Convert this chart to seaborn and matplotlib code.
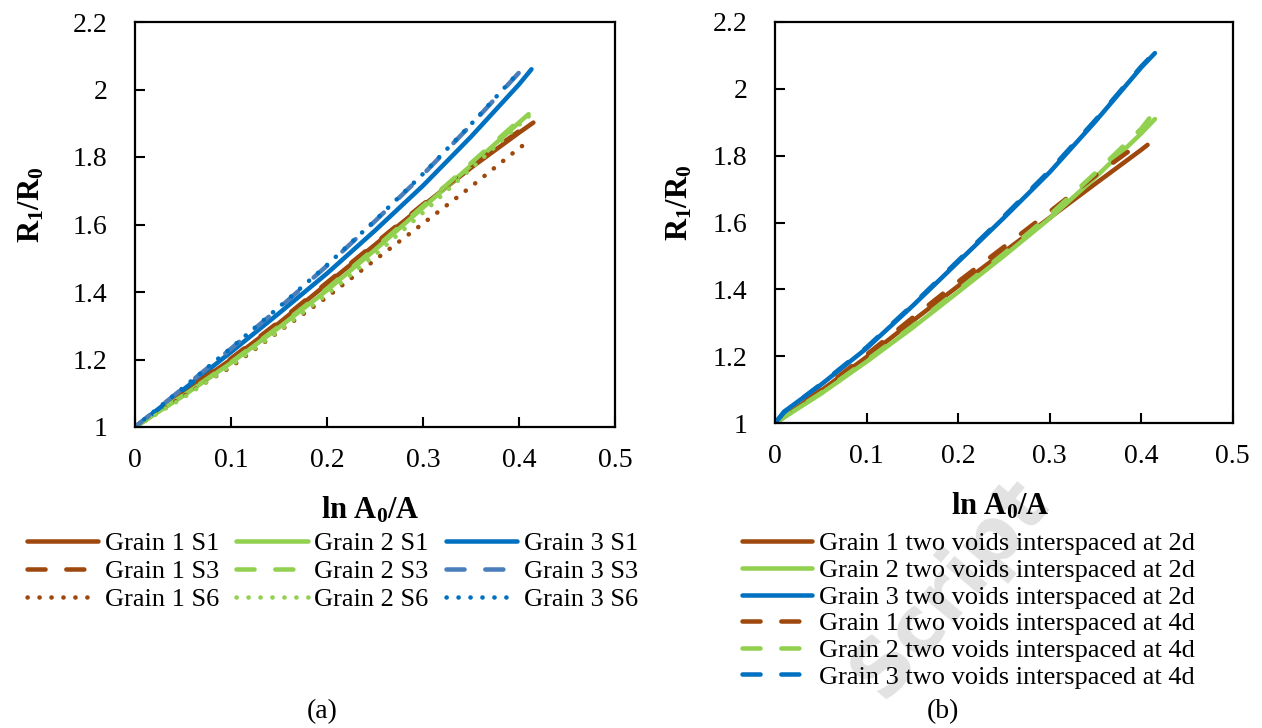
import matplotlib
matplotlib.use("Agg")
import matplotlib.pyplot as plt
import seaborn as sns
import pandas as pd

# ---------------- data: panel (a) ----------------
x_a_g1s1 = [0, 0.05, 0.1, 0.15, 0.2, 0.25, 0.3, 0.35, 0.4, 0.415]
y_a_g1s1 = [1.0, 1.1, 1.2, 1.308, 1.424, 1.54, 1.656, 1.768, 1.872, 1.902]
x_a_g1s3 = [0, 0.05, 0.1, 0.15, 0.2, 0.25, 0.3, 0.35, 0.4, 0.413]
y_a_g1s3 = [1.0, 1.102, 1.203, 1.312, 1.428, 1.544, 1.66, 1.773, 1.877, 1.905]
x_a_g1s6 = [0, 0.05, 0.1, 0.15, 0.2, 0.25, 0.3, 0.35, 0.4, 0.406]
y_a_g1s6 = [1.0, 1.09, 1.178, 1.283, 1.385, 1.495, 1.603, 1.712, 1.826, 1.838]
x_a_g2s1 = [0, 0.05, 0.1, 0.15, 0.2, 0.25, 0.3, 0.35, 0.4, 0.41]
y_a_g2s1 = [1.0, 1.092, 1.19, 1.295, 1.405, 1.525, 1.65, 1.775, 1.902, 1.927]
x_a_g2s3 = [0, 0.05, 0.1, 0.15, 0.2, 0.25, 0.3, 0.35, 0.4, 0.41]
y_a_g2s3 = [1.0, 1.093, 1.192, 1.298, 1.41, 1.53, 1.655, 1.782, 1.908, 1.932]
x_a_g2s6 = [0, 0.05, 0.1, 0.15, 0.2, 0.25, 0.3, 0.35, 0.4, 0.41]
y_a_g2s6 = [1.0, 1.086, 1.182, 1.285, 1.393, 1.51, 1.635, 1.765, 1.895, 1.92]
x_a_g3s1 = [0, 0.05, 0.1, 0.15, 0.2, 0.25, 0.3, 0.35, 0.4, 0.413]
y_a_g3s1 = [1.0, 1.11, 1.222, 1.337, 1.455, 1.582, 1.715, 1.86, 2.015, 2.06]
x_a_g3s3 = [0, 0.05, 0.1, 0.15, 0.2, 0.25, 0.3, 0.35, 0.4, 0.41]
y_a_g3s3 = [1.0, 1.115, 1.232, 1.352, 1.478, 1.61, 1.748, 1.895, 2.05, 2.084]
x_a_g3s6 = [0, 0.05, 0.1, 0.15, 0.2, 0.25, 0.3, 0.35, 0.4]
y_a_g3s6 = [1.0, 1.116, 1.234, 1.355, 1.48, 1.612, 1.75, 1.897, 2.052]

labels_a = ["Grain 1 S1", "Grain 2 S1", "Grain 3 S1",
            "Grain 1 S3", "Grain 2 S3", "Grain 3 S3",
            "Grain 1 S6", "Grain 2 S6", "Grain 3 S6"]

# ---------------- data: panel (b) ----------------
x_b_g1_2d = [0, 0.01, 0.05, 0.1, 0.15, 0.2, 0.25, 0.3, 0.35, 0.4, 0.407]
y_b_g1_2d = [1.0, 1.02, 1.097, 1.198, 1.305, 1.41, 1.512, 1.614, 1.716, 1.817, 1.832]
x_b_g2_2d = [0, 0.01, 0.05, 0.1, 0.15, 0.2, 0.25, 0.3, 0.35, 0.4, 0.415]
y_b_g2_2d = [1.0, 1.018, 1.088, 1.184, 1.285, 1.392, 1.5, 1.612, 1.735, 1.866, 1.909]
x_b_g3_2d = [0, 0.01, 0.05, 0.1, 0.15, 0.2, 0.25, 0.3, 0.35, 0.4, 0.415]
y_b_g3_2d = [1.0, 1.035, 1.115, 1.224, 1.35, 1.482, 1.614, 1.75, 1.902, 2.063, 2.106]
x_b_g1_4d = [0, 0.01, 0.05, 0.1, 0.15, 0.2, 0.25, 0.3, 0.35, 0.395]
y_b_g1_4d = [1.0, 1.02, 1.099, 1.205, 1.315, 1.423, 1.527, 1.632, 1.74, 1.83]
x_b_g2_4d = [0, 0.01, 0.05, 0.1, 0.15, 0.2, 0.25, 0.3, 0.35, 0.4, 0.41]
y_b_g2_4d = [1.0, 1.019, 1.09, 1.188, 1.29, 1.398, 1.507, 1.622, 1.748, 1.88, 1.915]
x_b_g3_4d = [0, 0.01, 0.05, 0.1, 0.15, 0.2, 0.25, 0.3, 0.35, 0.4, 0.412]
y_b_g3_4d = [1.0, 1.033, 1.117, 1.227, 1.353, 1.486, 1.618, 1.755, 1.906, 2.066, 2.1]

labels_b = ["Grain 1 two voids interspaced at 2d",
            "Grain 2 two voids interspaced at 2d",
            "Grain 3 two voids interspaced at 2d",
            "Grain 1 two voids interspaced at 4d",
            "Grain 2 two voids interspaced at 4d",
            "Grain 3 two voids interspaced at 4d"]

x_ticks = [0, 0.1, 0.2, 0.3, 0.4, 0.5]
x_ticklabels = ["0", "0.1", "0.2", "0.3", "0.4", "0.5"]
y_ticks = [1.0, 1.2, 1.4, 1.6, 1.8, 2.0, 2.2]
y_ticklabels = ["1", "1.2", "1.4", "1.6", "1.8", "2", "2.2"]

# ---------------- style ----------------
sns.set_theme(style="white")
plt.rcParams["font.family"] = ["Liberation Serif", "DejaVu Serif"]
plt.rcParams["text.color"] = "black"
plt.rcParams["axes.labelcolor"] = "black"
plt.rcParams["xtick.color"] = "black"
plt.rcParams["ytick.color"] = "black"
plt.rcParams["mathtext.fontset"] = "custom"
plt.rcParams["mathtext.rm"] = "Liberation Serif"
plt.rcParams["mathtext.bf"] = "Liberation Serif:bold"
plt.rcParams["mathtext.it"] = "Liberation Serif:italic"

BROWN = "#9E480E"
GREEN = "#92D050"
BLUE = "#0070C0"
LBLUE = "#4A7EBB"
LW = 3.25
SOLID = "-"
DASH = (0, (4.0, 4.6))
DOT = (0, (0.05, 2.6))

fig = plt.figure(figsize=(12.62, 7.28), dpi=100)
W, H = 1262.0, 728.0
ax1 = fig.add_axes([135 / W, 1 - 427 / H, 480 / W, 405 / H])
ax2 = fig.add_axes([775 / W, 1 - 423.3 / H, 457.7 / W, 401.6 / H])


def draw(ax, xs, ys, color, ls, label):
    df = pd.DataFrame({"x": xs, "y": ys})
    sns.lineplot(data=df, x="x", y="y", ax=ax, color=color, linestyle=ls,
                 linewidth=LW, estimator=None, sort=False, legend=False,
                 solid_capstyle="round", dash_capstyle="round")
    line = ax.lines[-1]
    line.set_label(label)
    return line


series_a = [
    (x_a_g1s1, y_a_g1s1, BROWN, SOLID),
    (x_a_g2s1, y_a_g2s1, GREEN, SOLID),
    (x_a_g3s1, y_a_g3s1, BLUE, SOLID),
    (x_a_g1s3, y_a_g1s3, BROWN, DASH),
    (x_a_g2s3, y_a_g2s3, GREEN, DASH),
    (x_a_g3s3, y_a_g3s3, LBLUE, DASH),
    (x_a_g1s6, y_a_g1s6, BROWN, DOT),
    (x_a_g2s6, y_a_g2s6, GREEN, DOT),
    (x_a_g3s6, y_a_g3s6, BLUE, DOT),
]
handles_a = [draw(ax1, xs, ys, c, ls, lab)
             for (xs, ys, c, ls), lab in zip(series_a, labels_a)]

series_b = [
    (x_b_g1_2d, y_b_g1_2d, BROWN, SOLID),
    (x_b_g2_2d, y_b_g2_2d, GREEN, SOLID),
    (x_b_g3_2d, y_b_g3_2d, BLUE, SOLID),
    (x_b_g1_4d, y_b_g1_4d, BROWN, DASH),
    (x_b_g2_4d, y_b_g2_4d, GREEN, DASH),
    (x_b_g3_4d, y_b_g3_4d, BLUE, DASH),
]
handles_b = [draw(ax2, xs, ys, c, ls, lab)
             for (xs, ys, c, ls), lab in zip(series_b, labels_b)]

for ax in (ax1, ax2):
    ax.set_xlim(0, 0.5)
    ax.set_ylim(1, 2.2)
    ax.set_xticks(x_ticks)
    ax.set_xticklabels(x_ticklabels)
    ax.set_yticks(y_ticks)
    ax.set_yticklabels(y_ticklabels)
    ax.set_xlabel("")
    ax.set_ylabel("")
    ax.tick_params(axis="both", direction="in", length=7, width=1.5,
                   color="black", labelsize=20, labelcolor="black")
    ax.tick_params(axis="x", pad=15, bottom=True, top=False)
    ax.tick_params(axis="y", pad=20, left=True, right=False)
    for sp in ax.spines.values():
        sp.set_visible(True)
        sp.set_color("black")
        sp.set_linewidth(1.6)
    ax.set_facecolor("white")

# axis labels
xlab = r"$\mathbf{ln\ A_0/A}$"
ylab = r"$\mathbf{R_1/R_0}$"
fig.text(370 / W, 1 - 510 / H, xlab, ha="center", va="center", fontsize=22, color="black")
fig.text(1000 / W, 1 - 506 / H, xlab, ha="center", va="center", fontsize=22, color="black")
fig.text(32 / W, 1 - 205 / H, ylab, ha="center", va="center", fontsize=22, rotation=90,
         color="black")
fig.text(680 / W, 1 - 203 / H, ylab, ha="center", va="center", fontsize=22, rotation=90,
         color="black")

# panel labels
fig.text(322 / W, 1 - 712 / H, "(a)", ha="center", va="center", fontsize=20, color="black")
fig.text(943 / W, 1 - 712 / H, "(b)", ha="center", va="center", fontsize=20, color="black")

# legends
order_a = [0, 3, 6, 1, 4, 7, 2, 5, 8]
leg1 = ax1.legend([handles_a[i] for i in order_a], [labels_a[i] for i in order_a],
                  ncol=3, loc="upper left", bbox_to_anchor=(27 / W, 1 - 532 / H),
                  bbox_transform=fig.transFigure, frameon=False, fontsize=19,
                  handlelength=2.7, handletextpad=0.25, columnspacing=0.65,
                  labelspacing=0.16, borderpad=0, borderaxespad=0,
                  labelcolor="black")
leg2 = ax2.legend(handles_b, labels_b, ncol=1, loc="upper left",
                  bbox_to_anchor=(742 / W, 1 - 532 / H),
                  bbox_transform=fig.transFigure, frameon=False, fontsize=19,
                  handlelength=2.65, handletextpad=0.25,
                  labelspacing=0.12, borderpad=0, borderaxespad=0,
                  labelcolor="black")

# watermark
fig.text(950 / W, 1 - 588 / H, "Script", ha="center", va="center", fontsize=56,
         fontweight="bold", family="DejaVu Sans", color="#e2e2e2", rotation=50,
         zorder=-1)

fig.savefig("out.png", dpi=100)
